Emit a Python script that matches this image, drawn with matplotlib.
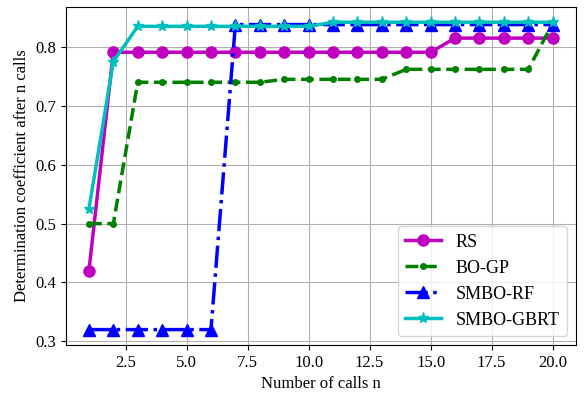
import numpy as np
import matplotlib.pyplot as plt

plt.rcParams['font.family'] = ['Liberation Serif', 'DejaVu Serif']

calls = np.arange(1, 21)
rs = [0.42] + [0.791] * 14 + [0.815] * 5
bo_gp = [0.5, 0.5] + [0.74] * 6 + [0.745] * 5 + [0.762] * 6 + [0.84]
smbo_rf = [0.32] * 6 + [0.838] * 14
smbo_gbrt = [0.525, 0.775] + [0.835] * 8 + [0.842] * 10

fig, ax = plt.subplots(figsize=(5.87, 4.03), dpi=100)
ax.plot(calls, rs, 'mo-', linewidth=2.5, markersize=8, label='RS')
ax.plot(calls, bo_gp, 'g.--', linewidth=2.5, markersize=8, label='BO-GP')
ax.plot(calls, smbo_rf, 'b^-.', linewidth=2.5, markersize=8, label='SMBO-RF')
ax.plot(calls, smbo_gbrt, 'c*-', linewidth=2.5, markersize=8, label='SMBO-GBRT')
ax.set_xlabel('Number of calls n', fontsize=12)
ax.set_ylabel('Determination coefficient after n calls', fontsize=12)
ax.tick_params(labelsize=12)
ax.grid(True, color='#b0b0b0')
ax.legend(loc='lower right', fontsize=13)
plt.subplots_adjust(left=0.112, right=0.981, top=0.983, bottom=0.144)
plt.savefig('out.png', dpi=100)
